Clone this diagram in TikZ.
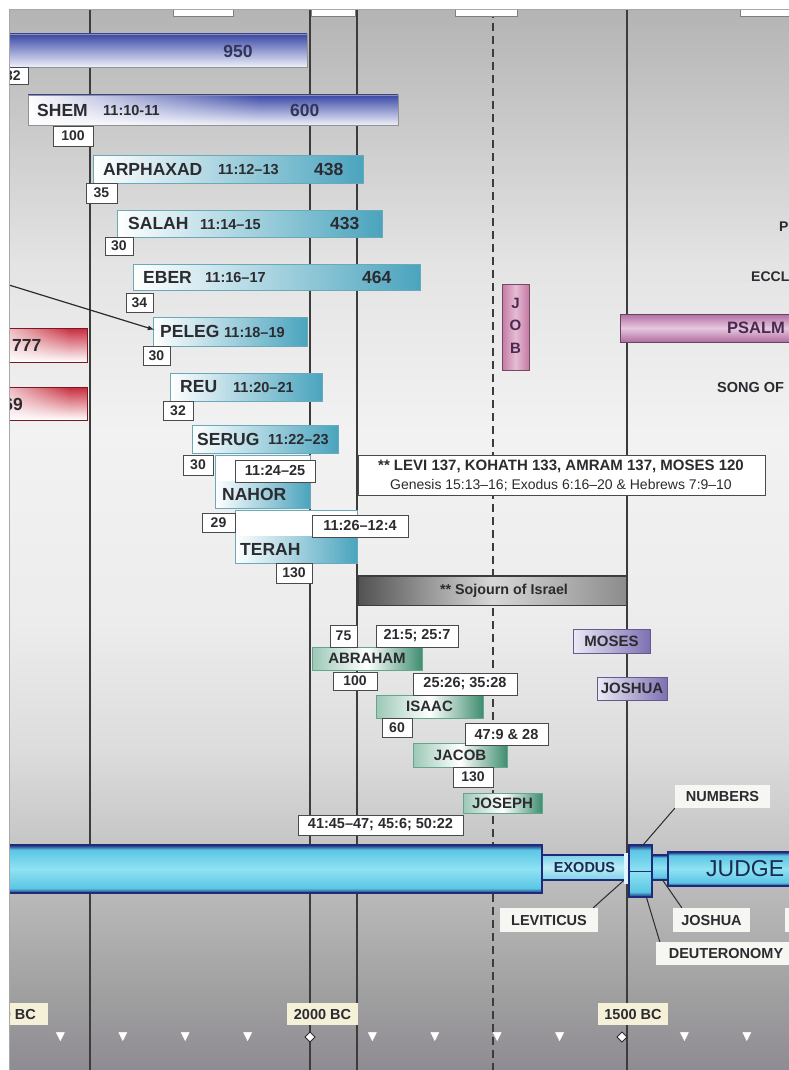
\documentclass[tikz,border=0pt]{standalone}
\usepackage{fontspec}
\setmainfont{Liberation Sans}
\usetikzlibrary{arrows, calc, positioning, fadings}
\definecolor{inkgray}{HTML}{2B2B30}
\definecolor{gridgray}{HTML}{3C3C3C}
\definecolor{boxedge}{HTML}{4A4A4A}
\definecolor{framegray}{HTML}{A8A8A8}
\definecolor{bgtop}{HTML}{B4B4B4}
\definecolor{bgupper}{HTML}{C8C8C8}
\definecolor{bgmid}{HTML}{E4E4E4}
\definecolor{bgpale}{HTML}{F2F2F2}
\definecolor{bglight}{HTML}{ECECEC}
\definecolor{bgdim}{HTML}{DCDCDC}
\definecolor{bglower}{HTML}{BDBDBD}
\definecolor{bgdeep}{HTML}{A2A2A2}
\definecolor{bgbottom}{HTML}{8F8B92}
\definecolor{shemblue}{HTML}{3A48A6}
\definecolor{shempale}{HTML}{EEF0FA}
\definecolor{shemink}{HTML}{30365A}
\definecolor{tealbar}{HTML}{4AA4BE}
\definecolor{tealedge}{HTML}{6AAAB8}
\definecolor{greenbar}{HTML}{3F8E70}
\definecolor{greenpale}{HTML}{9CC8B6}
\definecolor{mosespurple}{HTML}{7E70B2}
\definecolor{mosespale}{HTML}{ECEAF6}
\definecolor{jobpink}{HTML}{C47AA4}
\definecolor{jobpale}{HTML}{E6BCD4}
\definecolor{jobink}{HTML}{4A2A50}
\definecolor{psalmdark}{HTML}{B06EA2}
\definecolor{psalmpale}{HTML}{E6C8DE}
\definecolor{redbar}{HTML}{C82A3C}
\definecolor{tubenavy}{HTML}{1F2B7A}
\definecolor{tubecyan}{HTML}{5CC6E4}
\definecolor{tubelight}{HTML}{8EE2F2}
\definecolor{tubeink}{HTML}{1A2A50}
\definecolor{yearfill}{HTML}{F4F1D8}
\definecolor{lblfill}{HTML}{F6F6F2}

\pgfdeclareverticalshading{chartbg}{100bp}{color(0bp)=(bgbottom); color(25bp)=(bgbottom); color(29bp)=(bgdeep); color(34bp)=(bglower); color(40bp)=(bgdim); color(46bp)=(bglight); color(55bp)=(bgpale); color(63bp)=(bgmid); color(70bp)=(bgupper); color(75bp)=(bgtop); color(100bp)=(bgtop)}
\pgfdeclareverticalshading{tube}{100bp}{color(0bp)=(tubenavy); color(25bp)=(tubenavy); color(30bp)=(tubecyan); color(50bp)=(tubelight); color(70bp)=(tubecyan); color(75bp)=(tubenavy); color(100bp)=(tubenavy)}

\begin{document}
\begin{tikzpicture}[x=1pt, y=-1pt, inner sep=0pt,
    gridline/.style={draw=gridgray, line width=1.1pt},
    numbox/.style={draw=boxedge, fill=white, line width=0.9pt},
    numfont/.style={font=\fontsize{14}{14}\selectfont\bfseries, text=inkgray},
    namefont/.style={font=\fontsize{17.5}{18}\selectfont\bfseries, text=inkgray},
    versefont/.style={font=\fontsize{14.5}{15}\selectfont\bfseries, text=inkgray},
    patfont/.style={font=\fontsize{15}{15}\selectfont\bfseries, text=inkgray},
    tealbox/.style={draw=tealedge, line width=0.8pt, left color=white, right color=tealbar},
    greenbox/.style={draw=greenbar!80, line width=0.8pt, left color=greenpale, right color=greenbar, middle color=white},
    purplebox/.style={draw=mosespurple!80!black, line width=0.8pt, left color=mosespale, right color=mosespurple},
    tubebox/.style={draw=tubenavy, line width=1.2pt, shade, shading=tube},
    lbl/.style={fill=lblfill, font=\fontsize{14.5}{15}\selectfont\bfseries, text=inkgray},
    yearlbl/.style={font=\fontsize{14.5}{15}\selectfont\bfseries, text=inkgray},
    leader/.style={draw=inkgray, line width=1pt}]
    \fill[white] (0,0) rectangle (789,1070);
    \useasboundingbox (0,0) rectangle (789,1070);
    \begin{scope}
    \clip (9,10) rectangle (789,1070);
    \shade[shading=chartbg] (9,10) rectangle (789,1070);
    \foreach \lx in {90,310,357,627}{
        \draw[gridline] (\lx,10) -- (\lx,1070);
    }
    \draw[gridline, dash pattern=on 8pt off 5pt] (493,10) -- (493,1070);
    % tabs along the top edge
    \foreach \xa/\xb in {173/233, 311/355, 455/517, 740/795}{
        \draw[fill=white, draw=boxedge!70] (\xa,8) rectangle (\xb,16);
    }

    % first two rows
    \draw[draw=boxedge!60, top color=shemblue, bottom color=shempale] (0,34) rectangle (307,67);
    \node[namefont, text=shemink] (noahAge) at (238,51) {950};
    \shade[top color=shemblue, bottom color=shempale] (28,95) rectangle (398,125);
    \fill[white, path fading=east] (28,95) rectangle (260,125);
    \draw[draw=boxedge!60] (28,95) rectangle (398,125);
    \node[namefont, anchor=west] (who-0) at (37,110) {SHEM};
    \node[versefont, anchor=west] (verse-0) at (103,111) {11:10-11};
    \node[namefont, text=shemink, anchor=west] (age-0) at (290,110) {600};

    % red bars at the left edge
    \foreach \i/\ya/\yb in {1/328/362, 2/387/420}{
        \shade[top color=redbar, bottom color=white] (0,\ya) rectangle (87,\yb);
        \fill[white, path fading=east, fill opacity=0.8] (0,\ya) rectangle (70,\yb);
        \draw[draw=redbar!60!black, line width=0.8pt] (0,\ya) rectangle (87,\yb);
    }
    \node[namefont, anchor=west] (red-1) at (12,345) {777};
    \node[namefont, anchor=east] (red-2) at (23,404) {969};

    % line of Shem
    \foreach \i/\xa/\ya/\xb/\yb/\who/\wx/\verse/\vx in {
        1/93/155/363/183/ARPHAXAD/103/11:12–13/218,
        2/117/210/382/237/SALAH/128/11:14–15/200,
        3/133/264/420/290/EBER/143/11:16–17/205,
        4/153/317/307/346/PELEG/160/11:18–19/224,
        5/170/373/322/401/REU/180/11:20–21/233,
        6/192/425/338/453/SERUG/197/11:22–23/268}{
        \pgfmathsetmacro\ym{(\ya+\yb)/2}
        \draw[tealbox] (\xa,\ya) rectangle (\xb,\yb);
        \node[namefont, anchor=west] (who-\i) at (\wx,\ym) {\who};
        \node[versefont, anchor=west] (verse-\i) at (\vx,\ym+1) {\verse};
    }
    \foreach \i/\ax/\ay/\age in {1/314/169/438, 2/330/223.5/433, 3/362/277/464}{
        \node[namefont, anchor=west] (age-\i) at (\ax,\ay) {\age};
    }
    % taller bars, verse box sits on top
    \draw[draw=tealedge, line width=0.8pt, fill=white] (215,455) rectangle (310,508);
    \shade[left color=white, right color=tealbar] (215,481) rectangle (310,508);
    \draw[draw=tealedge, line width=0.8pt] (215,455) rectangle (310,508);
    \node[namefont, anchor=west] (who-7) at (222,494) {NAHOR};
    \draw[draw=tealedge, line width=0.8pt, fill=white] (235,510) rectangle (357,563);
    \shade[left color=white, right color=tealbar] (235,536) rectangle (357,563);
    \draw[draw=tealedge, line width=0.8pt] (235,510) rectangle (357,563);
    \node[namefont, anchor=west] (who-8) at (240,549) {TERAH};

    % patriarchs
    \foreach \i/\xa/\ya/\xb/\yb/\who in {1/312/647/422/670/ABRAHAM, 2/376/695/483/718/ISAAC, 3/413/743/507/767/JACOB, 4/463/793/542/813/JOSEPH}{
        \draw[greenbox] (\xa,\ya) rectangle node[patfont] (pat-\i) {\who} (\xb,\yb);
    }
    \draw[purplebox] (573,629) rectangle node[patfont] (moses) {MOSES} (650,653);
    \draw[purplebox] (597,677) rectangle node[patfont] (joshua) {JOSHUA} (667,700);

    % ages at birth of the son
    \foreach \i/\xa/\ya/\xb/\yb/\n in {1/-2/67/28/84/32, 2/53/126/93/146/100, 3/86/183/117/203/35, 4/105/237/133/255/30,
        5/126/293/153/312/34, 6/143/346/170/365/30, 7/163/401/193/420/32, 8/183/455/213/475/30, 9/202/513/235/532/29,
        10/276/563/312/583/130, 11/330/625/357/647/75, 12/333/672/377/690/100, 13/382/718/412/737/60, 14/453/767/493/787/130}{
        \draw[numbox] (\xa,\ya) rectangle node[numfont] (num-\i) {\n} (\xb,\yb);
    }
    \foreach \i/\xa/\ya/\xb/\yb/\v in {1/235/460/315/482/11:24–25, 2/312/515/408/537/11:26–12:4, 3/376/625/458/647/{21:5; 25:7},
        4/413/673/517/695/{25:26; 35:28}, 5/465/723/548/745/{47:9 \& 28}, 6/298/815/463/835/{41:45–47; 45:6; 50:22}}{
        \draw[numbox] (\xa,\ya) rectangle node[versefont] (ref-\i) {\v} (\xb,\yb);
    }

    \coordinate (arrowFrom) at (9,285);
    \draw[-latex, draw=inkgray, line width=1.2pt, shorten >=6pt] (arrowFrom) -- (who-4.west);

    % Levi note and sojourn
    \draw[numbox] (358,455) rectangle (765,495);
    \node[versefont, font=\fontsize{15}{15}\selectfont\bfseries] (levi-1) at (561,466) {** LEVI 137, KOHATH 133, AMRAM 137, MOSES 120};
    \node[versefont, font=\fontsize{14}{15}\selectfont] (levi-2) at (561,485) {Genesis 15:13–16; Exodus 6:16–20 \& Hebrews 7:9–10};
    \draw[draw=gridgray, line width=1pt, left color=black!68, right color=black!45, middle color=black!16] (358,575) rectangle (626,605);
    \draw[gridgray, line width=2pt] (358,576) -- (626,576);
    \node[versefont, font=\fontsize{14.3}{15}\selectfont\bfseries] (sojourn) at (504,591) {** Sojourn of Israel};

    % poetry books
    \draw[draw=jobpink!60!black, line width=0.9pt, left color=jobpink, right color=jobpink, middle color=jobpale] (502,284) rectangle (529,370);
    \foreach \i/\l/\ly in {1/J/303, 2/O/325, 3/B/348}{
        \node[patfont, text=jobink] (job-\i) at (515.5,\ly) {\l};
    }
    \draw[draw=psalmdark!60!black, line width=0.9pt, top color=psalmdark, bottom color=psalmdark, middle color=psalmpale] (620,314) rectangle (800,342);
    \node[namefont, font=\fontsize{16.5}{17}\selectfont\bfseries, text=jobink, anchor=west] (psalms) at (727,328) {PSALM};
    \node[patfont, font=\fontsize{14}{14}\selectfont\bfseries, anchor=west] (proverbs) at (779,227) {P};
    \node[patfont, font=\fontsize{14}{14}\selectfont\bfseries, anchor=west] (eccl) at (751,277) {ECCL};
    \node[patfont, font=\fontsize{14.5}{15}\selectfont\bfseries, anchor=west] (song) at (717,388) {SONG OF};

    % law books along the bottom bar
    \shade[shading=tube] (0,845) rectangle (542,893);
    \draw[tubenavy, line width=2.5pt] (-5,845) -- (542,845) -- (542,893) -- (-5,893);
    \node[draw=tubenavy, line width=1.2pt, top color=tubecyan!80, bottom color=tubecyan!80, middle color=tubelight!60,
        minimum width=85pt, minimum height=25pt, font=\fontsize{14.5}{15}\selectfont\bfseries, text=tubeink] (exodus) at (584.5,867.5) {EXODUS};
    \fill[tubelight!30] (624,853) rectangle (630,884);
    \node[tubebox, minimum width=23pt, minimum height=52pt] (lev) at (640.5,871) {};
    \draw[tubenavy, line width=1pt] (lev.west) -- (lev.east);
    \node[tubebox, minimum width=16pt, minimum height=25pt] (josbar) at (660,867.5) {};
    \shade[shading=tube] (668,852) rectangle (800,886);
    \draw[tubenavy, line width=2.5pt] (800,852) -- (668,852) -- (668,886) -- (800,886);
    \node[font=\fontsize{23}{23}\selectfont, text=tubeink, anchor=west] (judges) at (706,869) {JUDGE};

    \node[lbl, minimum width=95pt, minimum height=23pt] (lbNum) at (722.5,796.5) {NUMBERS};
    \node[lbl, minimum width=98pt, minimum height=24pt] (lbLev) at (549,920) {LEVITICUS};
    \node[lbl, minimum width=77pt, minimum height=24pt] (lbJos) at (711.5,920) {JOSHUA};
    \node[lbl, minimum width=140pt, minimum height=23pt] (lbDeut) at (726,953.5) {DEUTERONOMY};
    \fill[lblfill] (785,908) rectangle (795,932);
    \draw[leader] (lbNum.south west) -- ([xshift=3pt]lev.north);
    \draw[leader] ([xshift=-5pt]lbLev.north east) -- ([xshift=-4pt]exodus.south east);
    \draw[leader] ([xshift=9pt]lbJos.north west) -- ([xshift=3pt]josbar.south);
    \draw[leader] ([xshift=4pt]lbDeut.north west) -- ([xshift=6pt]lev.south);

    % time scale
    \fill[yearfill] (0,1003) rectangle (48,1025);
    \node[yearlbl, anchor=east] (yr2500) at (36,1014) {2500 BC};
    \draw[fill=yearfill, draw=none] (287,1003) rectangle node[yearlbl] (yr2000) {2000 BC} (358,1025);
    \draw[fill=yearfill, draw=none] (598,1003) rectangle node[yearlbl] (yr1500) {1500 BC} (668,1025);
    \foreach \k in {0,...,11}{
        \pgfmathsetmacro\tx{60.4 + 62.4*\k}
        \pgfmathtruncatemacro\isCentury{(\k == 4) || (\k == 9)}
        \ifnum 1=\isCentury
            \draw[fill=white, draw=inkgray, line width=1pt] (\tx,1032) -- (\tx+5,1037) -- (\tx,1042) -- (\tx-5,1037) -- cycle;
        \else
            \fill[white, draw=black!45, line width=0.4pt] (\tx-5,1032) -- (\tx+5,1032) -- (\tx,1042) -- cycle;
        \fi
    }
    \end{scope}
    \draw[framegray, line width=1pt] (9,1070) -- (9,10) -- (789,10);
\end{tikzpicture}
\end{document}
